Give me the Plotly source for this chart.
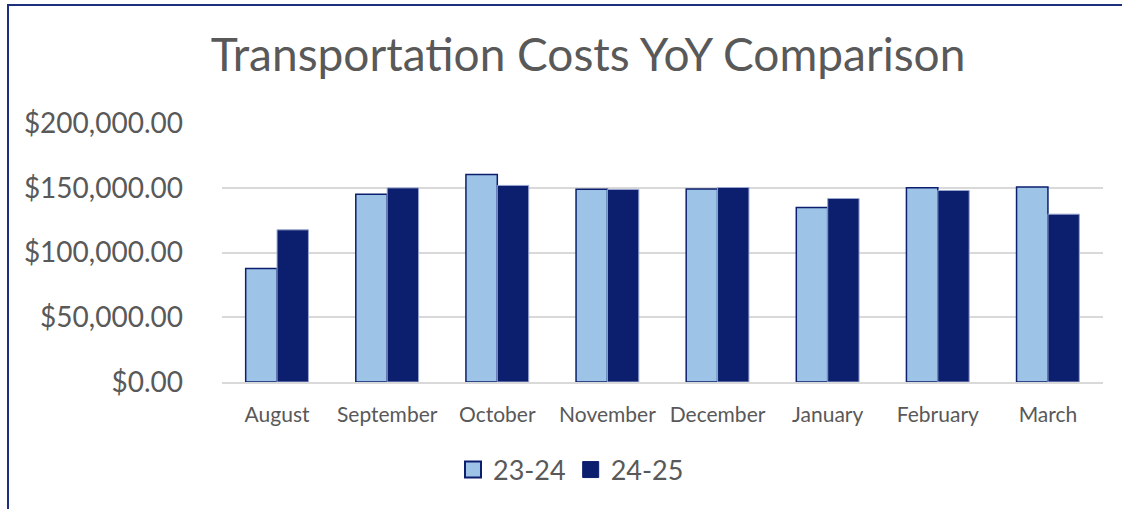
import plotly.graph_objects as go

months = ["August", "September", "October", "November", "December", "January", "February", "March"]
fy_2324 = [87600, 145000, 160300, 148900, 149000, 134800, 150000, 150500]
fy_2425 = [117500, 149900, 151800, 148700, 150200, 141700, 147900, 129600]
series_names = ["23-24", "24-25"]

LIGHT = "#9DC3E6"
NAVY = "#0B1F6E"
TEXT = "#595959"
FONT = "Lato"

W, H = 1122, 509
L, R, T, B = 222, 19, 123, 127
pw, ph = W - L - R, H - T - B

fig = go.Figure()
fig.add_trace(go.Bar(x=months, y=fy_2324, name=series_names[0], showlegend=False,
                     marker=dict(color=LIGHT, line=dict(color=NAVY, width=1.5))))
fig.add_trace(go.Bar(x=months, y=fy_2425, name=series_names[1], showlegend=False,
                     marker=dict(color=NAVY, line=dict(color="#9AA5CF", width=1))))
# legend proxies
fig.add_trace(go.Scatter(x=[None], y=[None], mode="markers", name=series_names[0],
                         marker=dict(symbol="square", size=17, color=LIGHT, line=dict(color=NAVY, width=2))))
fig.add_trace(go.Scatter(x=[None], y=[None], mode="markers", name=series_names[1],
                         marker=dict(symbol="square", size=17, color=NAVY, line=dict(color=NAVY, width=1))))

fig.update_layout(
    width=W, height=H,
    margin=dict(l=L, r=R, t=T, b=B),
    paper_bgcolor="white", plot_bgcolor="white",
    barmode="group", bargap=0.43, bargroupgap=0,
    font=dict(family=FONT, color=TEXT),
    title=dict(text="Transportation Costs YoY Comparison", x=588 / W, xanchor="center",
               y=1 - 55 / H, yanchor="middle", font=dict(size=46, color=TEXT, family=FONT)),
    legend=dict(orientation="h", x=(571 - L) / pw, xanchor="center", y=-(470 - (T + ph)) / ph,
                yanchor="middle", font=dict(size=27, color=TEXT), itemwidth=30, tracegroupgap=0),
    xaxis=dict(showgrid=False, showline=True, linecolor="#D9D9D9", linewidth=1.5,
               ticks="", tickfont=dict(size=21, color=TEXT), ticklabelstandoff=13),
    yaxis=dict(range=[0, 200000], dtick=50000, tickprefix="$", tickformat=",.2f",
               showgrid=True, gridcolor="#D9D9D9", gridwidth=1.5, zeroline=False,
               showline=False, ticks="", tickfont=dict(size=28, color=TEXT), ticklabelstandoff=38),
    shapes=[dict(type="rect", xref="paper", yref="paper",
                 x0=(8 - L) / pw, x1=(W + 20 - L) / pw,
                 y0=-(H + 20 - T - ph) / ph, y1=1 + (T - 5) / ph,
                 line=dict(color="#1F2F80", width=2), layer="below")],
)

fig.write_html("out.html", config={"displayModeBar": False},
               post_script="document.body.style.margin='0';document.body.style.overflow='hidden';")
